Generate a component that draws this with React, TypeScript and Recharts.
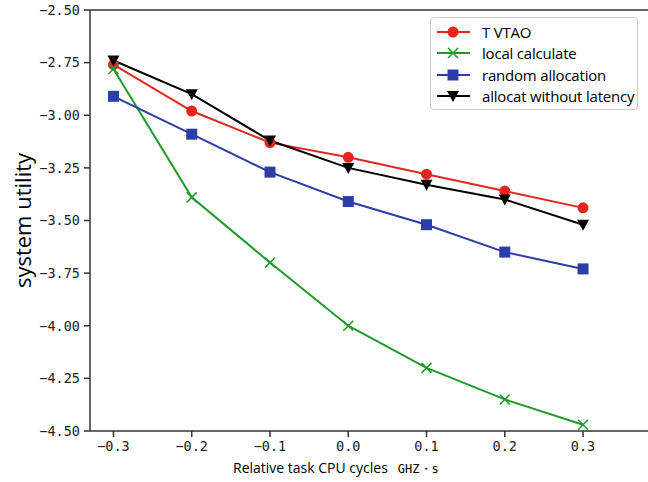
import { LineChart, Line, XAxis, YAxis, ReferenceLine } from "recharts";

const xValues = [-0.3, -0.2, -0.1, 0.0, 0.1, 0.2, 0.3];
const tvtao = [-2.76, -2.98, -3.13, -3.2, -3.28, -3.36, -3.44];
const localCalc = [-2.78, -3.39, -3.7, -4.0, -4.2, -4.35, -4.47];
const randomAlloc = [-2.91, -3.09, -3.27, -3.41, -3.52, -3.65, -3.73];
const noLatency = [-2.74, -2.9, -3.12, -3.25, -3.33, -3.4, -3.52];

const xTicks = [-0.3, -0.2, -0.1, 0.0, 0.1, 0.2, 0.3];
const yTicks = [-4.5, -4.25, -4.0, -3.75, -3.5, -3.25, -3.0, -2.75, -2.5];

const RED = "#e3261f";
const GREEN = "#1f9a2a";
const BLUE = "#2a3ea6";
const BLACK = "#000000";
const AXIS = "#333333";

const data = xValues.map((x, i) => ({
  x,
  tvtao: tvtao[i],
  local: localCalc[i],
  random: randomAlloc[i],
  nolat: noLatency[i],
}));

const fmt = (v: number, d: number) => {
  const s = Math.abs(v).toFixed(d);
  return v < 0 ? "\u2212" + s : s;
};

const CircleDot = ({ cx, cy }: any) => <circle cx={cx} cy={cy} r={5.5} fill={RED} />;
const SquareDot = ({ cx, cy }: any) => (
  <rect x={cx - 5.5} y={cy - 5.5} width={11} height={11} fill={BLUE} />
);
const TriDot = ({ cx, cy }: any) => (
  <path d={`M${cx - 6},${cy - 5} L${cx + 6},${cy - 5} L${cx},${cy + 6} Z`} fill={BLACK} />
);
const CrossDot = ({ cx, cy }: any) => (
  <g stroke={GREEN} strokeWidth={1.5}>
    <line x1={cx - 5} y1={cy - 5} x2={cx + 5} y2={cy + 5} />
    <line x1={cx - 5} y1={cy + 5} x2={cx + 5} y2={cy - 5} />
  </g>
);

const legendItems = [
  { name: "T VTAO", color: RED, Dot: CircleDot },
  { name: "local calculate", color: GREEN, Dot: CrossDot },
  { name: "random allocation", color: BLUE, Dot: SquareDot },
  { name: "allocat without latency", color: BLACK, Dot: TriDot },
];

const LegendBox = () => (
  <div
    style={{
      position: "absolute",
      left: 430,
      top: 17,
      boxSizing: "border-box",
      width: 208,
      height: 93,
      border: "1px solid #cccccc",
      borderRadius: 4,
      background: "#ffffff",
      padding: "3px 0 0 5px",
      fontFamily: "'Open Sans', sans-serif",
      fontSize: 15,
      color: "#000",
    }}
  >
    {legendItems.map(({ name, color, Dot }) => (
      <div key={name} style={{ display: "flex", alignItems: "center", height: 21.5 }}>
        <svg width={46} height={16}>
          <line x1={1} y1={8} x2={34} y2={8} stroke={color} strokeWidth={2} />
          <Dot cx={17} cy={8} />
        </svg>
        <span style={{ whiteSpace: "nowrap", lineHeight: "16px", letterSpacing: -0.2 }}>{name}</span>
      </div>
    ))}
  </div>
);

const YLabel = ({ viewBox }: any) => {
  const cy = viewBox ? viewBox.y + viewBox.height / 2 : 220;
  return (
    <text
      x={22}
      y={cy}
      transform={`rotate(-90, 22, ${cy})`}
      textAnchor="middle"
      dominantBaseline="central"
      fontFamily="'Open Sans', sans-serif"
      fontSize={22}
      fill="#000"
    >
      system utility
    </text>
  );
};

const XLabel = ({ viewBox }: any) => {
  const left = viewBox ? viewBox.x + 143 : 233;
  const y = viewBox ? viewBox.y + 42 : 473;
  return (
    <text x={left} y={y} fontFamily="'Open Sans', sans-serif" fontSize={14} fill="#000">
      Relative task CPU cycles
      <tspan dx={10} fontFamily="'DejaVu Sans Mono', monospace" fontSize={12}>
        GHZ・s
      </tspan>
    </text>
  );
};

const tickStyle = { fill: "#222", fontSize: 13.5, fontFamily: "'DejaVu Sans Mono', monospace" };

export default function App() {
  return (
    <div style={{ position: "absolute", left: 0, top: 0, width: 648, height: 482, background: "#fff" }}>
      <LineChart width={648} height={482} data={data} margin={{ top: 10, right: 0, bottom: 0, left: 0 }}>
        <XAxis
          dataKey="x"
          type="number"
          domain={[-0.33, 0.383]}
          ticks={xTicks}
          height={51}
          tickFormatter={(v: number) => fmt(v, 1)}
          stroke={AXIS}
          strokeWidth={1.5}
          tickSize={6}
          tickMargin={4}
          tick={tickStyle}
          allowDataOverflow
          label={<XLabel />}
        />
        <YAxis
          type="number"
          domain={[-4.5, -2.5]}
          ticks={yTicks}
          width={90}
          tickFormatter={(v: number) => fmt(v, 2)}
          stroke={AXIS}
          strokeWidth={1.5}
          tickSize={6}
          tickMargin={4}
          tick={tickStyle}
          allowDataOverflow
          label={<YLabel />}
        />
        <ReferenceLine y={-2.5} stroke={AXIS} strokeWidth={1.5} />
        <Line dataKey="tvtao" stroke={RED} strokeWidth={2} dot={<CircleDot />} isAnimationActive={false} />
        <Line dataKey="local" stroke={GREEN} strokeWidth={2} dot={<CrossDot />} isAnimationActive={false} />
        <Line dataKey="random" stroke={BLUE} strokeWidth={2} dot={<SquareDot />} isAnimationActive={false} />
        <Line dataKey="nolat" stroke={BLACK} strokeWidth={2} dot={<TriDot />} isAnimationActive={false} />
      </LineChart>
      <LegendBox />
    </div>
  );
}
